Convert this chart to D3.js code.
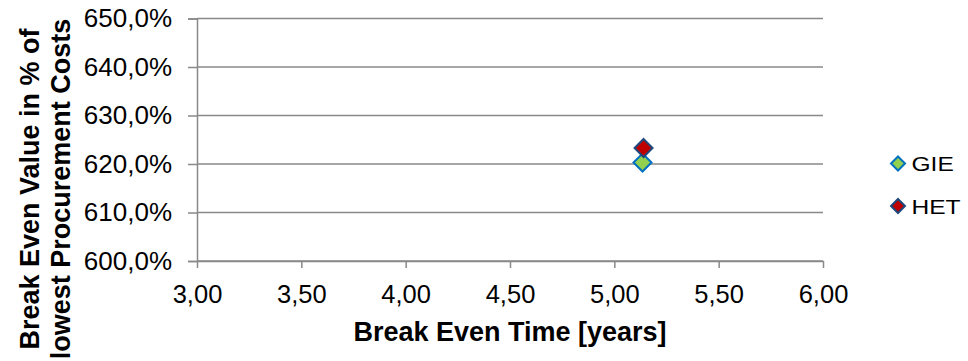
<!DOCTYPE html>
<html>
<head>
<meta charset="utf-8">
<script src="https://cdn.jsdelivr.net/npm/d3@7"></script>
<style>
  html, body { margin: 0; padding: 0; background: #fff; }
  svg { display: block; font-family: "Liberation Sans", Arial, sans-serif; }
</style>
</head>
<body>
<svg id="chart" width="968" height="361"></svg>
<script>
// Series: break even time (years) vs. break even value (share of lowest procurement costs)
const seriesNames = ["GIE", "HET"];
const breakEvenTime = [5.135, 5.14];
const breakEvenValue = [6.203, 6.233];
const fillColors = ["#92D050", "#C00000"];
const strokeColors = ["#0070C0", "#1F497D"];

const xTicks = [3.0, 3.5, 4.0, 4.5, 5.0, 5.5, 6.0];
const yTicks = [6.0, 6.1, 6.2, 6.3, 6.4, 6.5];

const xTitle = "Break Even Time [years]";
const yTitleLines = ["Break Even Value in % of", "lowest Procurement Costs"];

const locale = d3.formatLocale({ decimal: ",", thousands: ".", grouping: [3], currency: ["", " €"] });
const fmtX = locale.format(".2f");
const fmtY = locale.format(".1%");

const svg = d3.select("#chart");
const plotLeft = 197, plotRight = 823, plotTop = 18.5, plotBottom = 261;

const x = d3.scaleLinear().domain([3, 6]).range([plotLeft, plotRight]);
const y = d3.scaleLinear().domain([6.0, 6.5]).range([plotBottom, plotTop]);

const gridColor = "#898989";
const fontFamily = "Liberation Sans, Arial, sans-serif";

// horizontal gridlines
svg.append("g")
  .selectAll("line")
  .data(yTicks)
  .join("line")
  .attr("x1", plotLeft).attr("x2", plotRight)
  .attr("y1", d => y(d)).attr("y2", d => y(d))
  .attr("stroke", gridColor).attr("stroke-width", 1.5);

// y axis
const yAxis = svg.append("g")
  .attr("transform", `translate(${plotLeft},0)`)
  .call(d3.axisLeft(y).tickValues(yTicks).tickFormat(fmtY).tickSize(9).tickPadding(16));
yAxis.select(".domain").attr("stroke", gridColor).attr("stroke-width", 1.5);
yAxis.selectAll(".tick line").attr("stroke", gridColor).attr("stroke-width", 1.5);
yAxis.selectAll(".tick text")
  .attr("fill", "#000").attr("font-size", 26)
  .attr("font-family", fontFamily);

// x axis
const xAxis = svg.append("g")
  .attr("transform", `translate(0,${plotBottom})`)
  .call(d3.axisBottom(x).tickValues(xTicks).tickFormat(fmtX).tickSize(7).tickPadding(17).tickSizeOuter(0));
xAxis.select(".domain").attr("stroke", gridColor).attr("stroke-width", 1.5);
xAxis.selectAll(".tick line").attr("stroke", gridColor).attr("stroke-width", 1.5);
xAxis.selectAll(".tick text")
  .attr("fill", "#000").attr("font-size", 25.5)
  .attr("font-family", fontFamily);

// axis titles
svg.append("text")
  .attr("x", (plotLeft + plotRight) / 2).attr("y", 341)
  .attr("text-anchor", "middle")
  .attr("font-size", 27).attr("font-weight", "bold")
  .text(xTitle);

const yTitle = svg.append("text")
  .attr("transform", "translate(0,189) rotate(-90)")
  .attr("text-anchor", "middle")
  .attr("font-size", 27).attr("font-weight", "bold");
yTitle.selectAll("tspan")
  .data(yTitleLines)
  .join("tspan")
  .attr("x", 0)
  .attr("y", (d, i) => 39 + i * 31)
  .text(d => d);

// diamond markers
const diamond = r => `M0,${-r}L${r},0L0,${r}L${-r},0Z`;

svg.append("g")
  .selectAll("path")
  .data(seriesNames)
  .join("path")
  .attr("d", diamond(9))
  .attr("transform", (d, i) => `translate(${x(breakEvenTime[i])},${y(breakEvenValue[i])})`)
  .attr("fill", (d, i) => fillColors[i])
  .attr("stroke", (d, i) => strokeColors[i])
  .attr("stroke-width", 2);

// legend
const legend = svg.append("g")
  .selectAll("g")
  .data(seriesNames)
  .join("g")
  .attr("transform", (d, i) => `translate(898,${163.5 + i * 42.5})`);
legend.append("path")
  .attr("d", diamond(7))
  .attr("fill", (d, i) => fillColors[i])
  .attr("stroke", (d, i) => strokeColors[i])
  .attr("stroke-width", 2);
legend.append("text")
  .attr("transform", "translate(13.5,7.5) scale(1.17,1)")
  .attr("font-size", 21)
  .text(d => d);
</script>
</body>
</html>
